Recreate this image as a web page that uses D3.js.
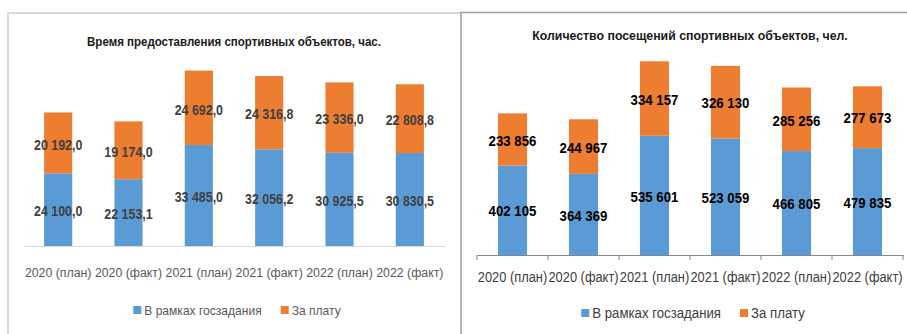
<!DOCTYPE html>
<html>
<head>
<meta charset="utf-8">
<script src="https://cdn.jsdelivr.net/npm/d3@7"></script>
<style>
  html, body { margin: 0; padding: 0; background: #ffffff; }
  svg { display: block; }
  text { font-family: "Liberation Sans", Arial, sans-serif; }
</style>
</head>
<body>
<svg id="chart" width="907" height="334"></svg>
<script>
// Categories shared by both panels
const categories = ["2020 (план)", "2020 (факт)", "2021 (план)", "2021 (факт)", "2022 (план)", "2022 (факт)"];
const seriesNames = ["В рамках госзадания", "За плату"];

// Panel 1: hours of sports facility provision
const hoursTitle = "Время предоставления спортивных объектов, час.";
const hoursState = [24100.0, 22153.1, 33485.0, 32056.2, 30925.5, 30830.5];
const hoursPaid = [20192.0, 19174.0, 24692.0, 24316.8, 23336.0, 22808.8];

// Panel 2: number of visits to sports facilities
const visitsTitle = "Количество посещений спортивных объектов, чел.";
const visitsState = [402105, 364369, 535601, 523059, 466805, 479835];
const visitsPaid = [233856, 244967, 334157, 326130, 285256, 277673];

const colors = ["#5b9bd5", "#ed7d31"];

// Horizontal squeeze applied to text so a wide sans face reads like a narrow one
const SQUEEZE = 0.9;

const svg = d3.select("#chart");

// Number formats: space as thousands separator, comma as decimal mark
const ruLocale = d3.formatLocale({ decimal: ",", thousands: " ", grouping: [3], currency: ["", ""] });
const fmtHours = ruLocale.format(",.1f");
const fmtVisits = ruLocale.format(",.0f");

// Move x/y of text elements into a transform that also narrows the glyphs
function squeeze(sel) {
  sel.each(function () {
    const t = d3.select(this);
    const x = +t.attr("x") || 0, y = +t.attr("y") || 0;
    t.attr("x", null).attr("y", null)
      .attr("transform", `translate(${x},${y}) scale(${SQUEEZE},1)`);
  });
  return sel;
}

// Frames around the two panels
svg.append("path")
  .attr("d", "M8,12 L8,334 M7,13 L460,13")
  .attr("fill", "none").attr("stroke", "#d9d9d9").attr("stroke-width", 2);
svg.append("path")
  .attr("d", "M461,12.5 L461,334 M460,12.5 L907,12.5")
  .attr("fill", "none").attr("stroke", "#a0a0a0").attr("stroke-width", 1.5);

function drawPanel(cfg) {
  const g = svg.append("g");
  const x = d3.scaleBand().domain(categories).range([cfg.x0, cfg.x1]).paddingInner(cfg.pad).paddingOuter(cfg.pad / 2);
  const y = d3.scaleLinear().domain([0, cfg.yMax]).range([cfg.base, cfg.top]);

  const stacked = d3.stack().keys([0, 1]).value((d, k) => d[k])(
    categories.map((c, i) => [cfg.state[i], cfg.paid[i]])
  );

  // Title
  squeeze(g.append("text")
    .attr("x", (cfg.x0 + cfg.x1) / 2).attr("y", cfg.titleY)
    .attr("text-anchor", "middle").attr("dominant-baseline", "central")
    .attr("font-weight", "bold").attr("font-size", cfg.titleSize)
    .attr("fill", "#1a1a1a")
    .text(cfg.title));

  // Stacked bars
  stacked.forEach((layer, li) => {
    g.append("g").selectAll("rect").data(layer).join("rect")
      .attr("x", (d, i) => x(categories[i]))
      .attr("width", x.bandwidth())
      .attr("y", d => y(d[1]))
      .attr("height", d => y(d[0]) - y(d[1]))
      .attr("fill", colors[li]);
  });

  // Value labels in the middle of each segment
  stacked.forEach((layer, li) => {
    squeeze(g.append("g").selectAll("text").data(layer).join("text")
      .attr("x", (d, i) => x(categories[i]) + x.bandwidth() / 2)
      .attr("y", d => (y(d[0]) + y(d[1])) / 2 + cfg.labelDy)
      .attr("text-anchor", "middle").attr("dominant-baseline", "central")
      .attr("font-weight", "bold").attr("font-size", cfg.labelSize)
      .attr("fill", cfg.labelColor)
      .text(d => cfg.fmt(d[1] - d[0])));
  });

  // Category axis
  const axis = d3.axisBottom(x).tickSize(0).tickPadding(0);
  const ax = g.append("g").attr("transform", `translate(0,${cfg.base})`).call(axis);
  ax.select(".domain").attr("stroke", cfg.axisColor).attr("stroke-width", 1);
  squeeze(ax.selectAll(".tick text")
    .attr("y", cfg.catY - cfg.base).attr("dy", null)
    .attr("dominant-baseline", "central")
    .attr("font-size", cfg.catSize).attr("fill", cfg.catColor)
    .attr("font-family", null));
  if (cfg.boundaryTicks) {
    const step = x.step();
    const edges = d3.range(categories.length + 1).map(i => cfg.x0 + i * step);
    ax.selectAll(".edge").data(edges).join("line")
      .attr("class", "edge")
      .attr("x1", d => d).attr("x2", d => d)
      .attr("y1", 0).attr("y2", 5)
      .attr("stroke", cfg.axisColor);
  }

  // Legend centred under the plot
  const leg = g.append("g");
  let cx = 0;
  seriesNames.forEach((name, i) => {
    const item = leg.append("g").attr("transform", `translate(${cx},0)`);
    item.append("rect").attr("x", 0).attr("y", -4).attr("width", 8).attr("height", 8).attr("fill", colors[i]);
    const t = item.append("text").attr("x", 11).attr("y", 0)
      .attr("dominant-baseline", "central")
      .attr("font-size", cfg.legendSize).attr("fill", cfg.catColor)
      .text(name);
    const w = t.node().getComputedTextLength() * SQUEEZE;
    squeeze(t);
    cx += 11 + w + cfg.legendGap;
  });
  const legW = cx - cfg.legendGap;
  leg.attr("transform", `translate(${(cfg.x0 + cfg.x1) / 2 - legW / 2 + cfg.legendDx},${cfg.legendY})`);
}

drawPanel({
  title: hoursTitle, state: hoursState, paid: hoursPaid, fmt: fmtHours,
  x0: 23, x1: 445, pad: 0.6, base: 246, top: 246 - 70000 * 0.003015, yMax: 70000,
  titleY: 42, titleSize: 12.8, labelSize: 13.8, labelColor: "#404040", labelDy: 2,
  catY: 272, catSize: 13.7, catColor: "#595959", axisColor: "#d9d9d9", boundaryTicks: false,
  legendY: 310, legendSize: 13.4, legendGap: 19, legendDx: 3
});

drawPanel({
  title: visitsTitle, state: visitsState, paid: visitsPaid, fmt: fmtVisits,
  x0: 477, x1: 903, pad: 0.59, base: 255, top: 255 - 1000000 * 0.0002227, yMax: 1000000,
  titleY: 35, titleSize: 13.7, labelSize: 14.7, labelColor: "#000000", labelDy: 1,
  catY: 277, catSize: 14.3, catColor: "#404040", axisColor: "#868686", boundaryTicks: true,
  legendY: 313, legendSize: 14.7, legendGap: 19, legendDx: 3
});
</script>
</body>
</html>
